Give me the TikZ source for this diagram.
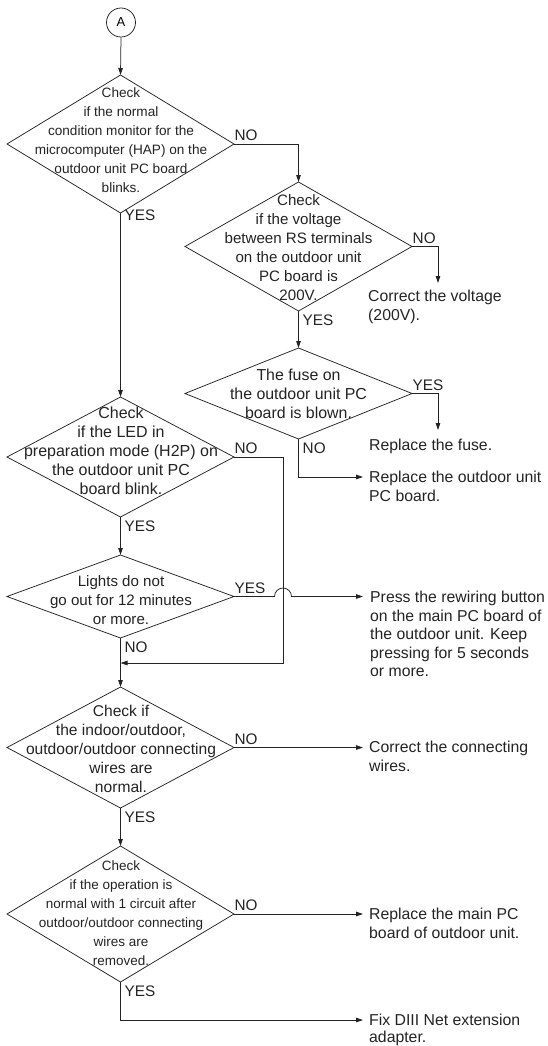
\documentclass[tikz,border=0pt]{standalone}
\usepackage{fontspec}
\setmainfont{Liberation Sans}
\usepackage{tikz}
\usetikzlibrary{shapes.geometric, arrows.meta}
\definecolor{mydark}{RGB}{35,35,35}
\tikzset{
  decision/.style={diamond, draw=mydark, line width=0.75pt,
    inner sep=0pt, outer sep=0pt},
  dtext/.style={align=center, inner sep=0pt, text=mydark,
    font=\fontsize{#1}{19}\selectfont},
  dtext/.default=15.5,
  result/.style={anchor=north west, align=left, inner sep=0pt, text=mydark,
    font=\fontsize{15.8}{18.5}\selectfont},
  lblright/.style={anchor=south west, inner xsep=0.5pt, inner ysep=3pt,
    text=mydark, font=\fontsize{15.3}{18}\selectfont},
  lblbelow/.style={anchor=north west, inner xsep=4pt, inner ysep=4pt,
    text=mydark, font=\fontsize{15.3}{18}\selectfont},
  arrow/.style={-{Triangle[length=7pt, width=4.5pt]}, line width=0.75pt, color=mydark},
  line/.style={line width=0.75pt, color=mydark}
}

\begin{document}
\begin{tikzpicture}[x=1pt, y=-1pt]
  \useasboundingbox (0,0) rectangle (547,1046);

  % Connector A
  \node[circle, draw=mydark, line width=0.75pt, minimum size=29pt, inner sep=0pt,
    font=\fontsize{13}{15}\selectfont] (start) at (121,22.5) {A};

  % Decisions
  \node[decision, minimum width=227pt, minimum height=138pt] (chkHap) at (120.5,144) {};
  \node[decision, minimum width=227pt, minimum height=129pt] (chkRs) at (298.5,246.5) {};
  \node[decision, minimum width=227pt, minimum height=91pt] (chkFuse) at (298.5,393.5) {};
  \node[decision, minimum width=227pt, minimum height=120pt] (chkLed) at (120.5,457) {};
  \node[decision, minimum width=227pt, minimum height=83pt] (chkLights) at (120.5,596.5) {};
  \node[decision, minimum width=227pt, minimum height=121pt] (chkWires) at (120.5,747.5) {};
  \node[decision, minimum width=227pt, minimum height=136pt] (chkCircuit) at (120.5,914) {};

  % Texts in decisions
  \node[dtext=13.6] (txtHap) at (121,140.5) {Check\\if the normal\\condition monitor for the\\microcomputer (HAP) on the\\outdoor unit PC board\\blinks.};
  \node[dtext=15.1] (txtRs) at (298.5,248) {Check\\if the voltage\\between RS terminals\\on the outdoor unit\\PC board is\\200V.};
  \node[dtext=15.9] (txtFuse) at (298.5,394) {The fuse on\\the outdoor unit PC\\board is blown.};
  \node[dtext=16] (txtLed) at (121,451) {Check\\if the LED in\\preparation mode (H2P) on\\the outdoor unit PC\\board blink.};
  \node[dtext=15.1] (txtLights) at (121,600) {Lights do not\\go out for 12 minutes\\or more.};
  \node[dtext=15.6] (txtWires) at (121,749) {Check if\\the indoor/outdoor,\\outdoor/outdoor connecting\\wires are\\normal.};
  \node[dtext=13.5] (txtCircuit) at (121,913) {Check\\if the operation is\\normal with 1 circuit after\\outdoor/outdoor connecting\\wires are\\removed.};

  % Results
  \node[result] (resVolt) at (368,290) {Correct the voltage\\(200V).};
  \node[result] (resFuse) at (369,439) {Replace the fuse.};
  \node[result] (resBoard) at (369,471) {Replace the outdoor unit\\PC board.};
  \node[result] (resButton) at (370,591) {Press the rewiring button\\on the main PC board of\\the outdoor unit. Keep\\pressing for 5 seconds\\or more.};
  \node[result] (resWires) at (369,741) {Correct the connecting\\wires.};
  \node[result] (resMain) at (369,908) {Replace the main PC\\board of outdoor unit.};
  \node[result, font=\fontsize{15.8}{17.5}\selectfont] (resAdapter) at (369,1013.5) {Fix DIII Net extension\\adapter.};

  % Arrow ends
  \coordinate (voltEnd) at (438,283);
  \coordinate (fuseEnd) at (438,430);
  \coordinate (boardEnd) at (363,477);
  \coordinate (ledTurn) at (283,663);
  \coordinate (pressEnd) at (363,597);
  \coordinate (wiresEnd) at (363,747);
  \coordinate (mainEnd) at (363,914);
  \coordinate (adaptEnd) at (363,1020);

  % Labels
  \node[lblright] (noHap) at (chkHap.east) {NO};
  \node[lblbelow, yshift=7pt] (yesHap) at (chkHap.south) {YES};
  \node[lblright] (noRs) at (chkRs.east) {NO};
  \node[lblbelow] (yesRs) at (chkRs.south) {YES};
  \node[lblright] (yesFuse) at (chkFuse.east) {YES};
  \node[lblbelow] (noFuse) at (chkFuse.south) {NO};
  \node[lblright] (noLed) at (chkLed.east) {NO};
  \node[lblbelow] (yesLed) at (chkLed.south) {YES};
  \node[lblright] (yesLights) at (chkLights.east) {YES};
  \node[lblbelow] (noLights) at (chkLights.south) {NO};
  \node[lblright] (noWires) at (chkWires.east) {NO};
  \node[lblbelow] (yesWires) at (chkWires.south) {YES};
  \node[lblright] (noCircuit) at (chkCircuit.east) {NO};
  \node[lblbelow] (yesCircuit) at (chkCircuit.south) {YES};

  % Connections
  \draw[arrow] (start.south) -- (chkHap.north);
  \draw[arrow] (chkHap.east) -| (chkRs.north);
  \draw[arrow] (chkRs.east) -| (voltEnd);
  \draw[arrow] (chkRs.south) -- (chkFuse.north);
  \draw[arrow] (chkFuse.east) -| (fuseEnd);
  \draw[arrow] (chkFuse.south) |- (boardEnd);

  \draw[arrow] (chkHap.south) -- (chkLed.north);
  \draw[arrow] (chkLed.east) -| (ledTurn) -- (ledTurn -| chkLights.south);
  \draw[arrow] (chkLed.south) -- (chkLights.north);
  \draw[arrow] (chkLights.east) -- ([xshift=-8.5pt]chkLights.east -| ledTurn)
    arc[start angle=180, end angle=0, radius=8.5pt] -- (chkLights.east -| pressEnd);
  \draw[arrow] (chkLights.south) -- (chkWires.north);
  \draw[arrow] (chkWires.east) -- (chkWires.east -| wiresEnd);
  \draw[arrow] (chkWires.south) -- (chkCircuit.north);
  \draw[arrow] (chkCircuit.east) -- (chkCircuit.east -| mainEnd);
  \draw[arrow] (chkCircuit.south) |- (adaptEnd);
\end{tikzpicture}
\end{document}
